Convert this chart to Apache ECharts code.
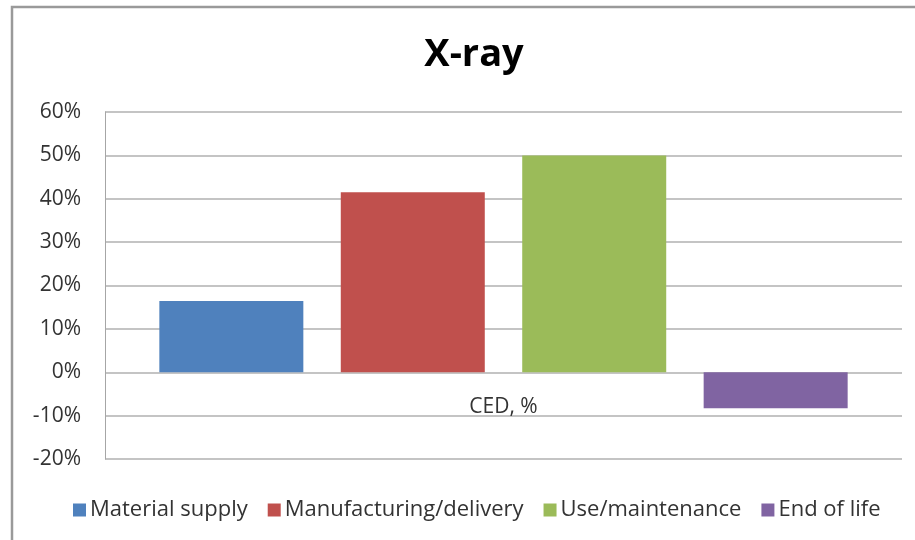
<!DOCTYPE html>
<html>
<head>
<meta charset="utf-8">
<script src="https://cdn.jsdelivr.net/npm/echarts@6/dist/echarts.min.js"></script>
<style>
  html, body { margin: 0; padding: 0; background: #fff; }
  #chart { width: 915px; height: 540px; }
</style>
</head>
<body>
<div id="chart"></div>
<script>
// data
const categories = ['CED, %'];
const seriesNames = ['Material supply', 'Manufacturing/delivery', 'Use/maintenance', 'End of life'];
const seriesValues = [16.4, 41.5, 50, -8.3];
const colors = ['#4f81bd', '#c0504d', '#9bbb59', '#8064a2'];
const yTicks = { min: -20, max: 60, interval: 10 };

const chart = echarts.init(document.getElementById('chart'));

const font = '"Open Sans", sans-serif';

chart.setOption({
  animation: false,
  textStyle: { fontFamily: font },
  title: {
    text: 'X-ray',
    left: 469,
    textAlign: 'center',
    top: 31,
    textStyle: { fontSize: 38, fontWeight: 'bold', color: '#000', fontFamily: font }
  },
  graphic: [{
    type: 'rect',
    shape: { x: 12, y: 7, width: 930, height: 560 },
    style: { fill: 'none', stroke: '#9a9a9a', lineWidth: 2.5 },
    silent: true
  }],
  legend: {
    bottom: 14,
    left: 68,
    itemWidth: 13,
    itemHeight: 13,
    itemGap: 20,
    icon: 'rect',
    textStyle: { fontSize: 22, color: '#333', fontFamily: font, padding: [0, 0, 0, -1] },
    data: seriesNames
  },
  grid: { left: 105, right: 13, top: 112, bottom: 81 },
  xAxis: {
    type: 'category',
    data: categories,
    axisLine: { show: false },
    axisTick: { show: false },
    axisLabel: { margin: -62, fontSize: 21, color: '#333', fontFamily: font }
  },
  yAxis: {
    type: 'value',
    min: yTicks.min,
    max: yTicks.max,
    interval: yTicks.interval,
    axisLine: { show: true, lineStyle: { color: '#a6a6a6' } },
    axisTick: { show: false },
    splitLine: { lineStyle: { color: '#b0b0b0', width: 1.5 } },
    axisLabel: {
      fontSize: 21, color: '#333', margin: 24, fontFamily: font,
      formatter: v => v + '%'
    }
  },
  series: seriesNames.map((name, i) => ({
    name: name,
    type: 'bar',
    barWidth: 144,
    barGap: '26%',
    itemStyle: { color: colors[i] },
    data: [seriesValues[i]]
  }))
});
</script>
</body>
</html>
